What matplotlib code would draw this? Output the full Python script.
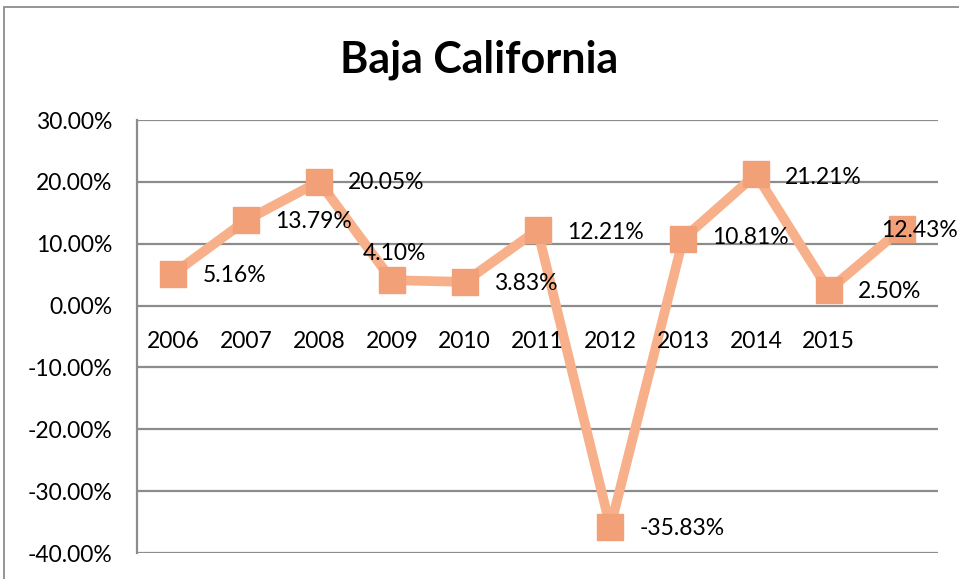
import matplotlib
matplotlib.use("Agg")
import matplotlib.pyplot as plt
from matplotlib.patches import Rectangle
from matplotlib.ticker import FuncFormatter

categories = ["2006", "2007", "2008", "2009", "2010", "2011", "2012", "2013", "2014", "2015", ""]
values = [5.16, 13.79, 20.05, 4.10, 3.83, 12.21, -35.83, 10.81, 21.21, 2.50, 12.43]
yticks = [-40, -30, -20, -10, 0, 10, 20, 30]
title = "Baja California"

# label offsets (points) relative to each marker
label_offsets = [(21, -1), (21, -1), (21, -1), (-21, 19), (21, -1), (21, -2),
                 (21, -1), (21, 1), (21, -2), (21, -1), (-15, -1)]

plt.rcParams['font.family'] = ['Lato', 'DejaVu Sans']
FS = 16.5

fig = plt.figure(figsize=(9.59, 5.79), dpi=100)
fig.patch.set_facecolor('white')

# outer chart border
fig.add_artist(Rectangle((4 / 959, -0.05), 1.1, 1 - 7 / 579 + 0.05,
                         transform=fig.transFigure, fill=False,
                         edgecolor='#8c8c8c', linewidth=1.3))

ax = fig.add_axes([137 / 959, 26 / 579, (938 - 137) / 959, (553 - 120) / 579])
x = list(range(len(values)))
ax.plot(x, values, color='#F7B08A', linewidth=7, marker='s', markersize=18.5,
        markerfacecolor='#F2A077', markeredgecolor='#F2A077', zorder=3,
        solid_joinstyle='round')

ax.set_xlim(-0.5, len(values) - 0.5)
ax.set_ylim(-40, 30)
ax.set_yticks(yticks)
ax.yaxis.set_major_formatter(FuncFormatter(lambda v, p: f"{v:.2f}%"))
ax.tick_params(axis='y', length=0, pad=18, labelsize=FS, labelcolor='black')
ax.set_xticks([])
ax.grid(axis='y', color='#8c8c8c', linewidth=1.6)
ax.set_axisbelow(True)
for s in ['top', 'right', 'bottom']:
    ax.spines[s].set_visible(False)
ax.spines['left'].set_color('#8c8c8c')
ax.spines['left'].set_linewidth(1.6)

# category labels along the zero line
for i, c in enumerate(categories):
    ax.annotate(c, (i, 0), xytext=(0, -26), textcoords='offset points',
                ha='center', va='center', fontsize=FS, color='black')

# data labels
for i, v in enumerate(values):
    dx, dy = label_offsets[i]
    ax.annotate(f"{v:.2f}%", (i, v), xytext=(dx, dy), textcoords='offset points',
                ha='left', va='center', fontsize=FS, color='black', zorder=4)

fig.text(0.5, 1 - 60 / 579, title, ha='center', va='center',
         fontsize=31, fontweight='bold', color='black')

fig.savefig("out.png", dpi=100)
